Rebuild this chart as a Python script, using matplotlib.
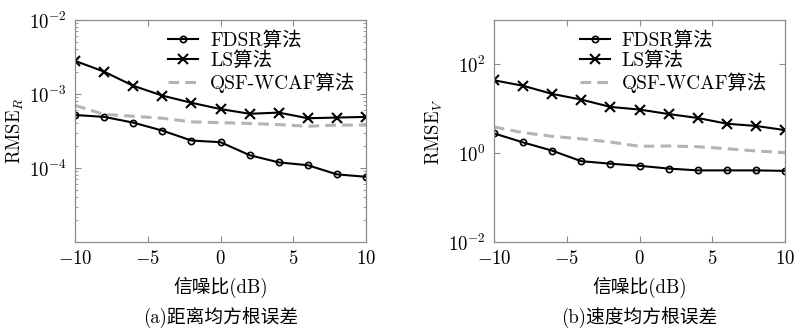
import numpy as np
import matplotlib.pyplot as plt
from matplotlib.ticker import LogLocator, NullFormatter

plt.rcParams['font.family'] = ['cmr10', 'Noto Sans CJK SC']
plt.rcParams['mathtext.fontset'] = 'cm'
plt.rcParams['axes.formatter.use_mathtext'] = True

snr = [-10, -8, -6, -4, -2, 0, 2, 4, 6, 8, 10]

# (a) range RMSE
fdsr_r = [5.2e-4, 4.9e-4, 4.1e-4, 3.2e-4, 2.35e-4, 2.23e-4, 1.49e-4, 1.19e-4, 1.09e-4, 8.2e-5, 7.6e-5]
ls_r = [2.8e-3, 2.0e-3, 1.29e-3, 9.5e-4, 7.6e-4, 6.25e-4, 5.4e-4, 5.6e-4, 4.7e-4, 4.8e-4, 4.9e-4]
qsf_r = [7.0e-4, 5.3e-4, 5.0e-4, 4.7e-4, 4.2e-4, 4.1e-4, 4.0e-4, 3.85e-4, 3.66e-4, 3.8e-4, 3.8e-4]

# (b) velocity RMSE
fdsr_v = [2.8, 1.75, 1.14, 0.66, 0.58, 0.52, 0.45, 0.41, 0.41, 0.41, 0.40]
ls_v = [43.8, 33, 21.6, 16.1, 11.0, 9.6, 7.6, 6.2, 4.6, 4.1, 3.3]
qsf_v = [3.9, 2.9, 2.4, 2.1, 1.78, 1.43, 1.45, 1.40, 1.26, 1.12, 1.03]

labels = ['FDSR算法', 'LS算法', 'QSF-WCAF算法']
ylabels = [r'$\mathrm{RMSE}_R$', r'$\mathrm{RMSE}_V$']
captions = ['(a)距离均方根误差', '(b)速度均方根误差']

fig = plt.figure(figsize=(7.94, 3.29), dpi=100)
ax1 = fig.add_axes([0.0945, 0.2644, 0.3665, 0.675])
ax2 = fig.add_axes([0.622, 0.2644, 0.367, 0.675])

spine_col = '#8c8c8c'
fs = 14
tfs = 13.5

def draw(ax, fdsr, ls, qsf, ylim, yticks, ylabel, caption, minor, leg_x):
    ax.plot(snr, fdsr, color='black', lw=1.5, marker='o', ms=4.5,
            mfc='none', mew=1.2, label=labels[0])
    ax.plot(snr, ls, color='black', lw=1.5, marker='x', ms=7,
            mew=1.5, label=labels[1])
    ax.plot(snr, qsf, color='#b4b4b4', lw=2.2, ls=(0, (3.5, 2)), label=labels[2])
    ax.set_yscale('log')
    ax.set_xlim(-10, 10)
    ax.set_ylim(*ylim)
    ax.set_xticks([-10, -5, 0, 5, 10])
    ax.set_yticks(yticks)
    if minor:
        ax.yaxis.set_minor_locator(LogLocator(base=10, subs=np.arange(2, 10)))
    else:
        ax.yaxis.set_minor_locator(plt.NullLocator())
    ax.yaxis.set_minor_formatter(NullFormatter())
    ax.tick_params(which='both', direction='in', top=True, right=True,
                   labelsize=tfs, color=spine_col, pad=6)
    ax.tick_params(which='major', length=4)
    ax.tick_params(which='minor', length=2)
    for s in ax.spines.values():
        s.set_color(spine_col)
        s.set_linewidth(0.9)
    ax.set_ylabel(ylabel, fontsize=tfs, labelpad=2)
    ax.set_xlabel('信噪比(dB)', fontsize=tfs, labelpad=6)
    pos = ax.get_position()
    fig.text((pos.x0 + pos.x1) / 2, 1 - 317 / 329, caption, ha='center',
             va='center', fontsize=tfs)
    ax.legend(loc='upper left', bbox_to_anchor=(leg_x, 0.95), frameon=False,
              fontsize=fs, handlelength=1.55, handletextpad=0.6,
              labelspacing=0.1, borderpad=0, borderaxespad=0)

draw(ax1, fdsr_r, ls_r, qsf_r, (1e-5, 1e-2), [1e-4, 1e-3, 1e-2],
     ylabels[0], captions[0], True, 0.32)
draw(ax2, fdsr_v, ls_v, qsf_v, (1e-2, 1e3), [1e-2, 1e0, 1e2],
     ylabels[1], captions[1], False, 0.295)

fig.savefig('out.png', dpi=100)
